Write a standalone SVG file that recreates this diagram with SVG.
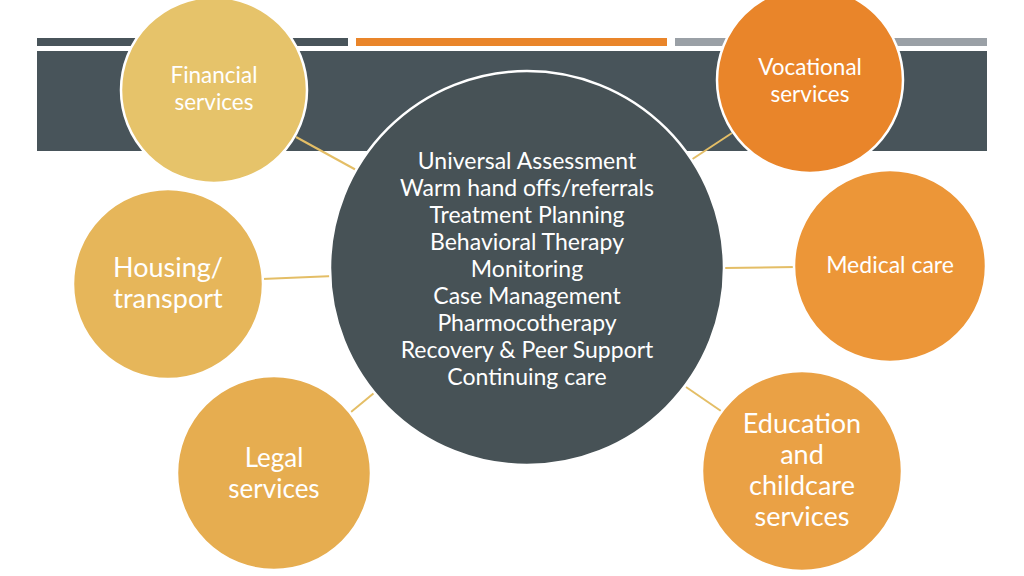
<svg xmlns="http://www.w3.org/2000/svg" width="1024" height="576" viewBox="0 0 1024 576">
<style>
.node circle{stroke:#ffffff;stroke-width:2.5}
.t{font-family:Lato,"Open Sans","Liberation Sans",sans-serif;fill:#ffffff;text-anchor:middle}
.conn line{stroke:#E4BE66;stroke-width:2}
</style>
<rect width="1024" height="576" fill="#ffffff"/>
<g id="header">
<rect x="37" y="38" width="311" height="8" fill="#48545A"/>
<rect x="356" y="38" width="311" height="8" fill="#E9852A"/>
<rect x="675" y="38" width="312" height="8" fill="#9AA0A6"/>
<rect x="37" y="51" width="950" height="100" fill="#48545A"/>
</g>
<g class="conn" id="connectors">
<line x1="296" y1="137" x2="358" y2="171"/>
<line x1="732" y1="133" x2="691" y2="160"/>
<line x1="262" y1="279" x2="334" y2="276"/>
<line x1="724" y1="268" x2="796" y2="267"/>
<line x1="351" y1="412" x2="374" y2="393"/>
<line x1="686" y1="387" x2="721" y2="411"/>
</g>
<g class="node" id="financial">
<circle cx="214" cy="90" r="93" fill="#E6C36A"/>
<text class="t" font-size="22.5" x="214" y="83">Financial</text>
<text class="t" font-size="22.5" x="214" y="110">services</text>
</g>
<g class="node" id="vocational">
<circle cx="810" cy="80" r="93" fill="#E9852A"/>
<text class="t" font-size="22.5" x="810" y="75">Vocational</text>
<text class="t" font-size="22.5" x="810" y="102">services</text>
</g>
<g class="node" id="central">
<circle cx="527" cy="268" r="197" fill="#475256"/>
<text class="t" font-size="23" x="527" y="169">Universal Assessment</text>
<text class="t" font-size="23" x="527" y="196">Warm hand offs/referrals</text>
<text class="t" font-size="23" x="527" y="223">Treatment Planning</text>
<text class="t" font-size="23" x="527" y="250">Behavioral Therapy</text>
<text class="t" font-size="23" x="527" y="277">Monitoring</text>
<text class="t" font-size="23" x="527" y="304">Case Management</text>
<text class="t" font-size="23" x="527" y="331">Pharmocotherapy</text>
<text class="t" font-size="23" x="527" y="358">Recovery &amp; Peer Support</text>
<text class="t" font-size="23" x="527" y="385">Continuing care</text>
</g>
<g class="node" id="housing">
<circle cx="168" cy="284" r="95" fill="#E6B65A"/>
<text class="t" font-size="27" x="168" y="277">Housing/</text>
<text class="t" font-size="27" x="168" y="308">transport</text>
</g>
<g class="node" id="medical">
<circle cx="890" cy="266" r="96" fill="#EC9638"/>
<text class="t" font-size="23" x="890" y="273">Medical care</text>
</g>
<g class="node" id="legal">
<circle cx="274" cy="473" r="97" fill="#E6AD50"/>
<text class="t" font-size="26" x="274" y="467">Legal</text>
<text class="t" font-size="26" x="274" y="498">services</text>
</g>
<g class="node" id="education">
<circle cx="802" cy="471" r="100" fill="#EAA145"/>
<text class="t" font-size="27" x="802" y="433">Education</text>
<text class="t" font-size="27" x="802" y="464">and</text>
<text class="t" font-size="27" x="802" y="495">childcare</text>
<text class="t" font-size="27" x="802" y="526">services</text>
</g>
</svg>
